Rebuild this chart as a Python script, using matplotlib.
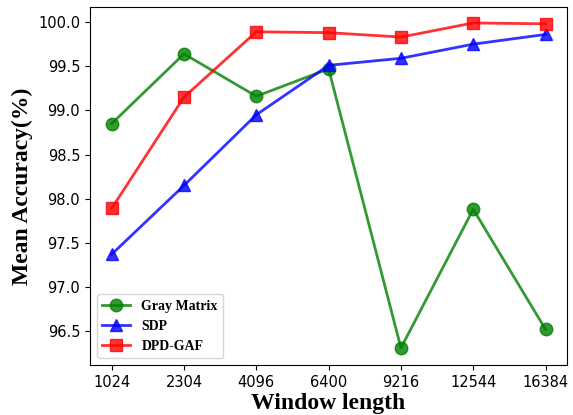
import matplotlib
matplotlib.use("Agg")
import matplotlib.pyplot as plt

window = ["1024", "2304", "4096", "6400", "9216", "12544", "16384"]
gray_matrix = [98.85, 99.64, 99.16, 99.47, 96.31, 97.88, 96.52]
sdp = [97.37, 98.15, 98.95, 99.51, 99.59, 99.75, 99.86]
dpd_gaf = [97.89, 99.15, 99.89, 99.88, 99.83, 99.99, 99.98]

fig, ax = plt.subplots(figsize=(5.73, 4.15), dpi=100)
x = range(len(window))
ax.plot(x, gray_matrix, color="green", marker="o", markersize=9, linewidth=2, alpha=0.8, label="Gray Matrix")
ax.plot(x, sdp, color="blue", marker="^", markersize=9, linewidth=2, alpha=0.8, label="SDP")
ax.plot(x, dpd_gaf, color="red", marker="s", markersize=9, linewidth=2, alpha=0.8, label="DPD-GAF")

ax.set_xticks(list(x))
ax.set_xticklabels(window)
ax.tick_params(labelsize=10.5)
ax.set_ylim(96.115, 100.17)
ax.set_xlim(-0.3, 6.3)

bold = {"family": "Liberation Serif", "weight": "bold", "size": 17}
ax.set_xlabel("Window length", fontdict=bold, labelpad=2)
ax.set_ylabel("Mean Accuracy(%)", fontdict=bold)
ax.legend(loc="lower left", prop={"family": "Liberation Serif", "weight": "bold", "size": 10})

fig.subplots_adjust(left=0.157, right=0.99, top=0.983, bottom=0.12)
fig.savefig("out.png")
